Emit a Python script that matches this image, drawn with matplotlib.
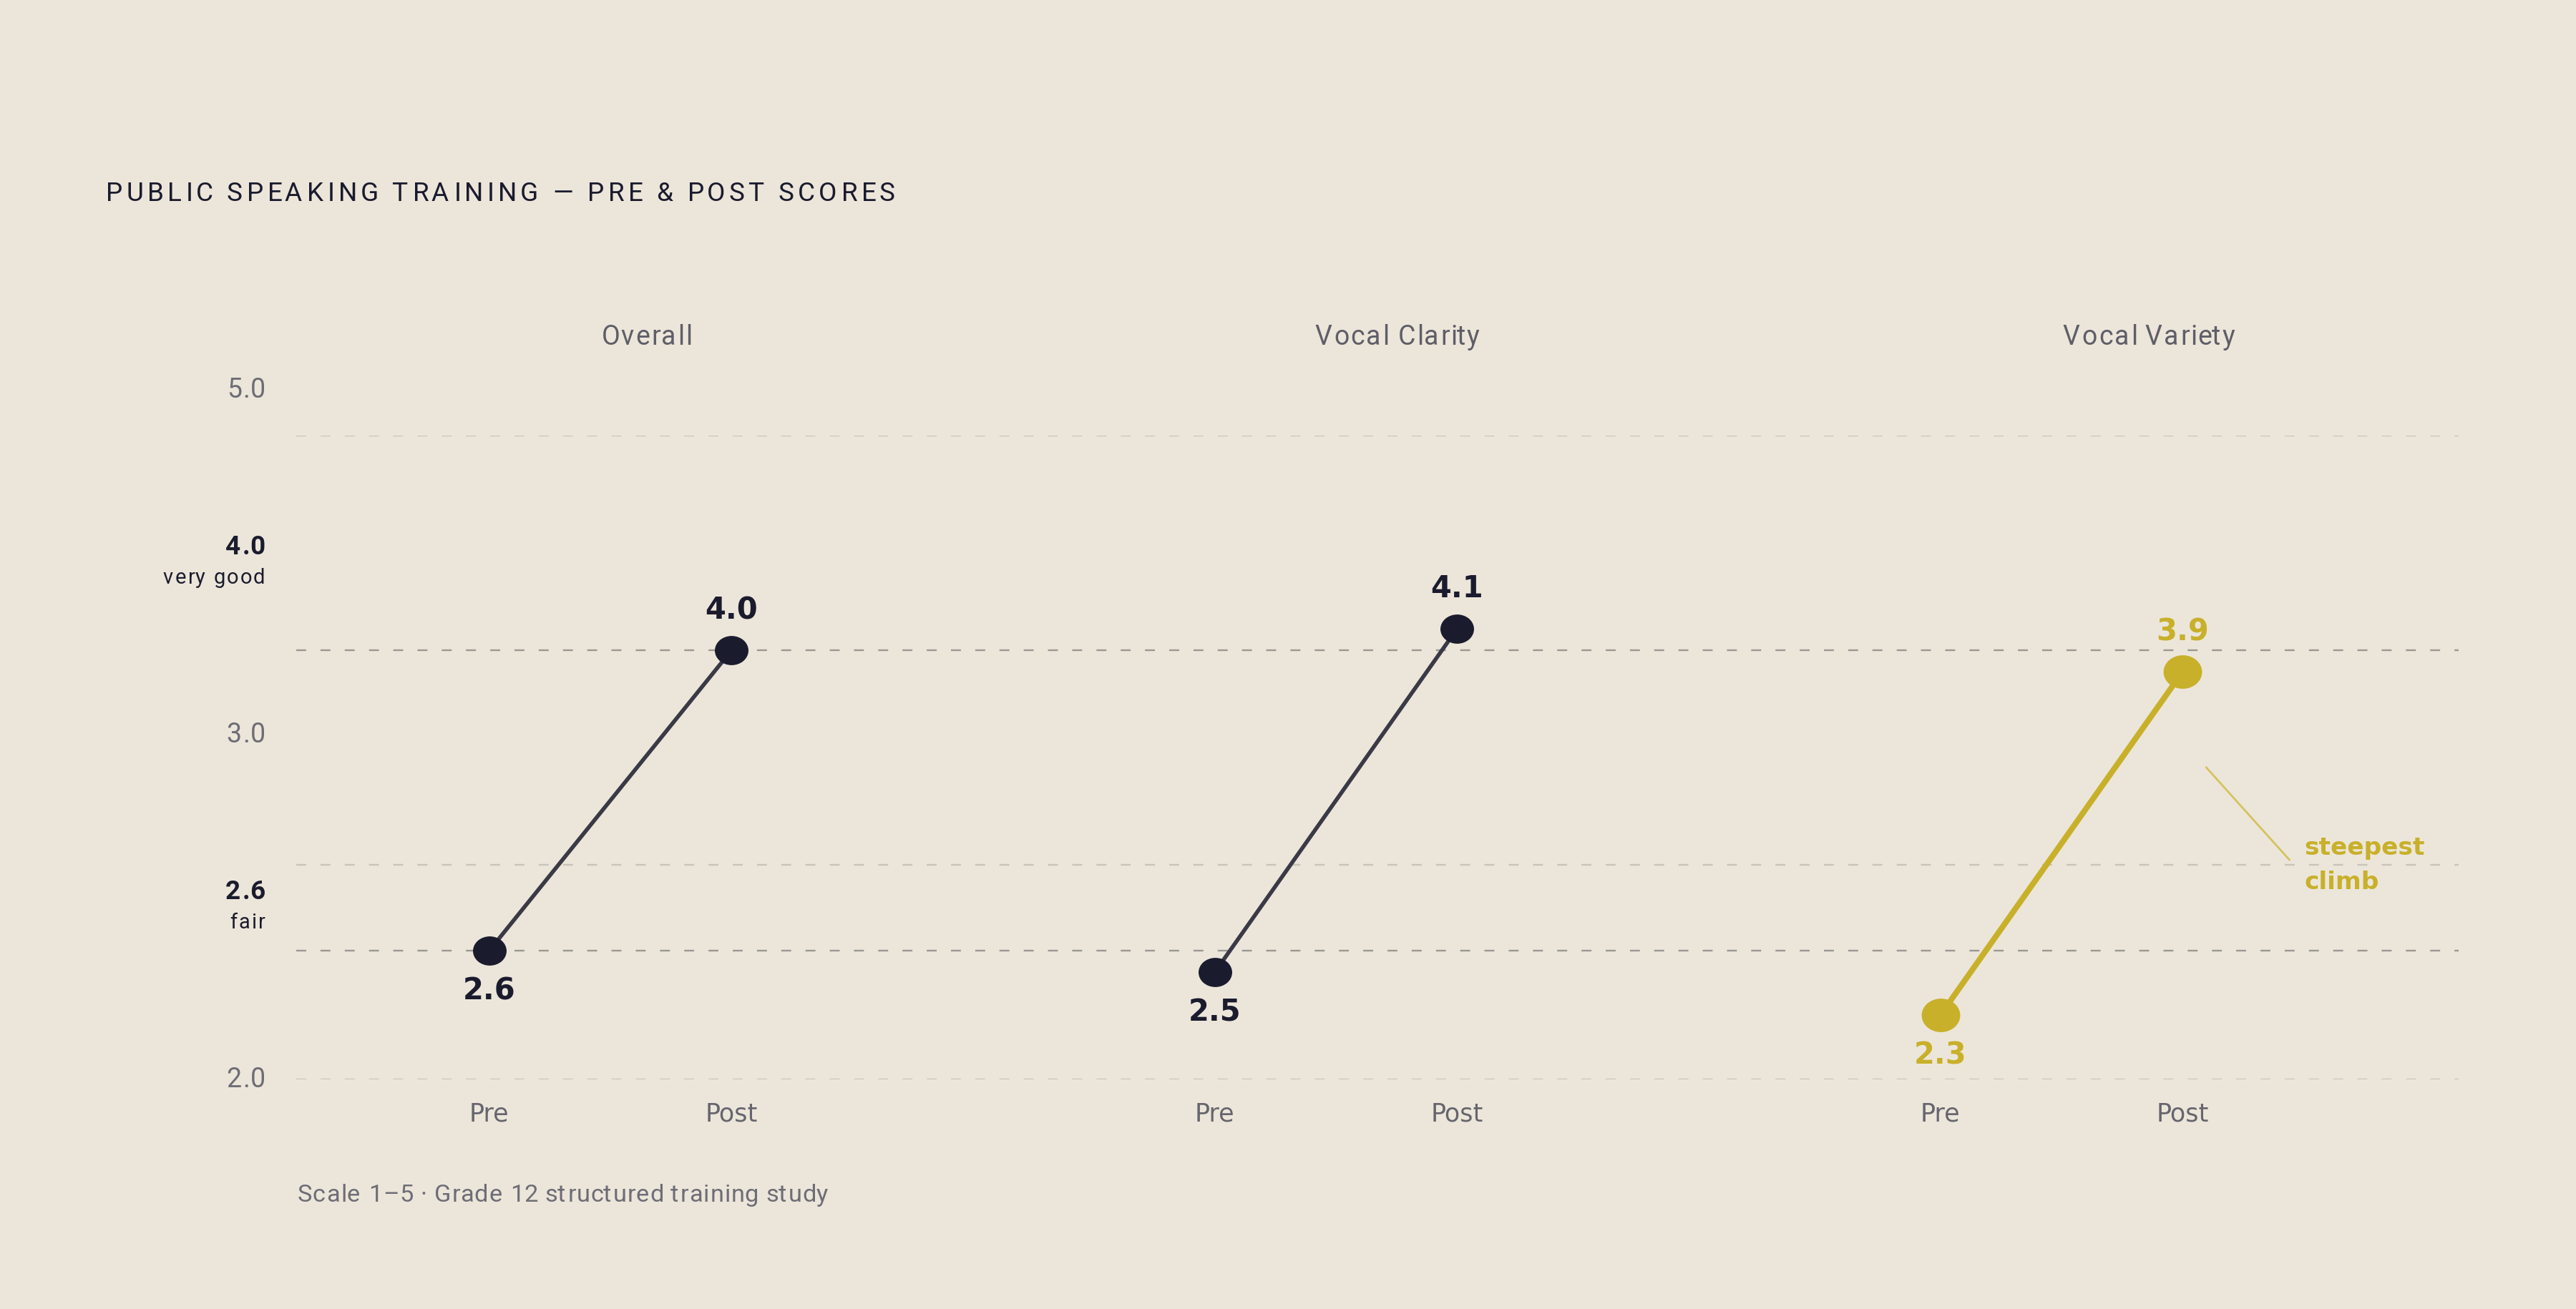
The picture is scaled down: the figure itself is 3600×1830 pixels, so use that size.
import numpy as np
import matplotlib
matplotlib.use("Agg")
import matplotlib.pyplot as plt
from matplotlib.path import Path
from matplotlib.markers import MarkerStyle
from matplotlib.transforms import IdentityTransform
from matplotlib.lines import Line2D
from matplotlib.font_manager import FontProperties, findfont
from matplotlib import ft2font

# ---------------- data ----------------
categories = ["Overall", "Vocal Clarity", "Vocal Variety"]
pre_scores = [2.6, 2.5, 2.3]
post_scores = [4.0, 4.1, 3.9]
phase_labels = ["Pre", "Post"]
highlight = "Vocal Variety"
annotation_lines = ["steepest", "climb"]

grid_values = [5.0, 4.0, 3.0, 2.6, 2.0]
tick_labels = ["5.0", "4.0", "3.0", "2.6", "2.0"]
tick_notes = ["", "very good", "", "fair", ""]

title = "PUBLIC SPEAKING TRAINING \u2014 PRE & POST SCORES"
caption = "Scale 1\u20135 \u00b7 Grade 12 structured training study"

# ---------------- style ----------------
W, H, DPI = 3600, 1830, 200
BG = "#ECE6DA"
DARK = "#1B1B2E"
LINE_DARK = "#3A3945"
YELLOW = "#C8B02A"
LEADER = "#D5C25E"
GRAY_TXT = "#66656E"
GRID_LIGHT = "#C8C4BA"
GRID_DARK = "#9A9892"

plt.rcParams["lines.scale_dashes"] = False

fig = plt.figure(figsize=(W / DPI, H / DPI), dpi=DPI, facecolor=BG)

# plot area in pixels (from top)
AX_L, AX_R, AX_T, AX_B = 414, 3436, 609, 1509
ax = fig.add_axes([AX_L / W, 1 - AX_B / H, (AX_R - AX_L) / W, (AX_B - AX_T) / H])
ax.set_facecolor("none")
ax.axis("off")
PANEL_PX = 1014
ax.set_xlim(0, (AX_R - AX_L) / PANEL_PX)
ax.set_ylim(min(grid_values), max(grid_values))

PRE_OFF, POST_OFF = 0.266, 0.600
TITLE_OFF, TITLE_STEP = 0.481, 1.036

PT = 72.0 / DPI  # points per pixel

# ---------------- helpers ----------------
try:
    NOHINT = ft2font.LoadFlags.NO_HINTING
except AttributeError:
    NOHINT = ft2font.LOAD_NO_HINTING


def char_metrics(s, fp):
    f = ft2font.FT2Font(findfont(fp), hinting_factor=1)
    f.set_size(fp.get_size_in_points(), DPI)
    advs, bears = [], []
    for ch in s:
        g = f.load_char(ord(ch), flags=NOHINT)
        advs.append(g.linearHoriAdvance / 65536.0)
        bears.append(g.horiBearingX / 64.0)
    return advs, bears


def tracked(s, x, y_top, fp, color, tracking=0.0, ha="left", width=None):
    advs, bears = char_metrics(s, fp)
    natural = sum(advs)
    if width is not None and len(s) > 1:
        tracking = (width - natural) / (len(s) - 1)
    total = natural + tracking * (len(s) - 1)
    if ha == "center":
        x0 = x - total / 2
    elif ha == "right":
        x0 = x - total
    else:
        x0 = x
    pen = x0
    for ch, a, b in zip(s, advs, bears):
        if not ch.isspace():
            fig.text(pen + b, H - y_top, ch, transform=IdentityTransform(),
                     ha="left", va="baseline", fontproperties=fp, color=color)
        pen += a + tracking


def to_px(x, y):
    px, py = ax.transData.transform((x, y))
    return px, H - py


# ---------------- gridlines ----------------
for v, note in zip(grid_values, tick_notes):
    ax.axhline(v, color=GRID_DARK if note else GRID_LIGHT, lw=0.85,
               dashes=(5.0, 7.2), zorder=1)

# ---------------- slopes ----------------
circ = Path.unit_circle()
ellipse = Path(circ.vertices * np.array([1.15, 1.0]), circ.codes)
marker = MarkerStyle(ellipse)

for g, (cat, a, b) in enumerate(zip(categories, pre_scores, post_scores)):
    hot = cat == highlight
    lc = YELLOW if hot else LINE_DARK
    mc = YELLOW if hot else DARK
    xs = [g + PRE_OFF, g + POST_OFF]
    ax.plot(xs, [a, b], color=lc, lw=2.9 if hot else 2.0,
            solid_capstyle="butt", zorder=3)
    ax.plot(xs, [a, b], ls="none", marker=marker,
            ms=19.4 if hot else 16.9, mew=0, color=mc, zorder=4)
    ax.annotate(f"{a:.1f}", (xs[0], a), xytext=(0, -69 * PT),
                textcoords="offset points", ha="center", va="baseline",
                color=mc, fontfamily="DejaVu Sans", fontweight="bold",
                fontsize=15)
    ax.annotate(f"{b:.1f}", (xs[1], b), xytext=(0, 44 * PT),
                textcoords="offset points", ha="center", va="baseline",
                color=mc, fontfamily="DejaVu Sans", fontweight="bold",
                fontsize=15)
    for j, ph in enumerate(phase_labels):
        ax.annotate(ph, (xs[j], 0), xycoords=("data", "axes fraction"),
                    xytext=(0, -59 * PT), textcoords="offset points",
                    ha="center", va="baseline", color=GRAY_TXT,
                    fontfamily="DejaVu Sans", fontsize=12.6)

    # panel title
    tx, _ = to_px(TITLE_OFF + g * TITLE_STEP, 0)
    tracked(cat, tx, 482, FontProperties(family="Roboto", size=13.5),
            "#5F5E68", tracking=1.5, ha="center")

    if hot:
        px_, py_ = to_px(xs[1], b)
        x1, y1 = px_ + 33, py_ + 134
        x2, y2 = px_ + 149, py_ + 263
        fig.add_artist(Line2D([x1, x2], [H - y1, H - y2], color=LEADER,
                              lw=1.0, transform=IdentityTransform()))
        for k, line in enumerate(annotation_lines):
            fig.text(px_ + 170, H - (py_ + 256 + 48 * k), line,
                     transform=IdentityTransform(), ha="left", va="baseline",
                     color=YELLOW, fontfamily="DejaVu Sans",
                     fontweight="bold", fontsize=12.4)

# ---------------- y labels (evenly spaced slots) ----------------
SLOT0, SLOT_STEP, LAB_RIGHT = 542, 241, 369
for i, (lab, note) in enumerate(zip(tick_labels, tick_notes)):
    c = SLOT0 + SLOT_STEP * i
    if note:
        tracked(lab, LAB_RIGHT, c - 8,
                FontProperties(family="Roboto", weight="bold", size=13.3),
                DARK, tracking=1.0, ha="right")
        tracked(note, LAB_RIGHT, c + 33,
                FontProperties(family="Roboto", size=10.5),
                DARK, tracking=2.0, ha="right")
    else:
        tracked(lab, LAB_RIGHT, c + 14,
                FontProperties(family="Roboto", size=13.5),
                "#6E6D76", tracking=1.0, ha="right")

# ---------------- title & caption ----------------
tracked(title, 145, 281, FontProperties(family="Roboto", size=13.3),
        DARK, width=1104)
tracked(caption, 414, 1680, FontProperties(family="Roboto", size=12.4),
        "#6E6D76", width=742)

fig.savefig("out.png", dpi=DPI, facecolor=BG)
